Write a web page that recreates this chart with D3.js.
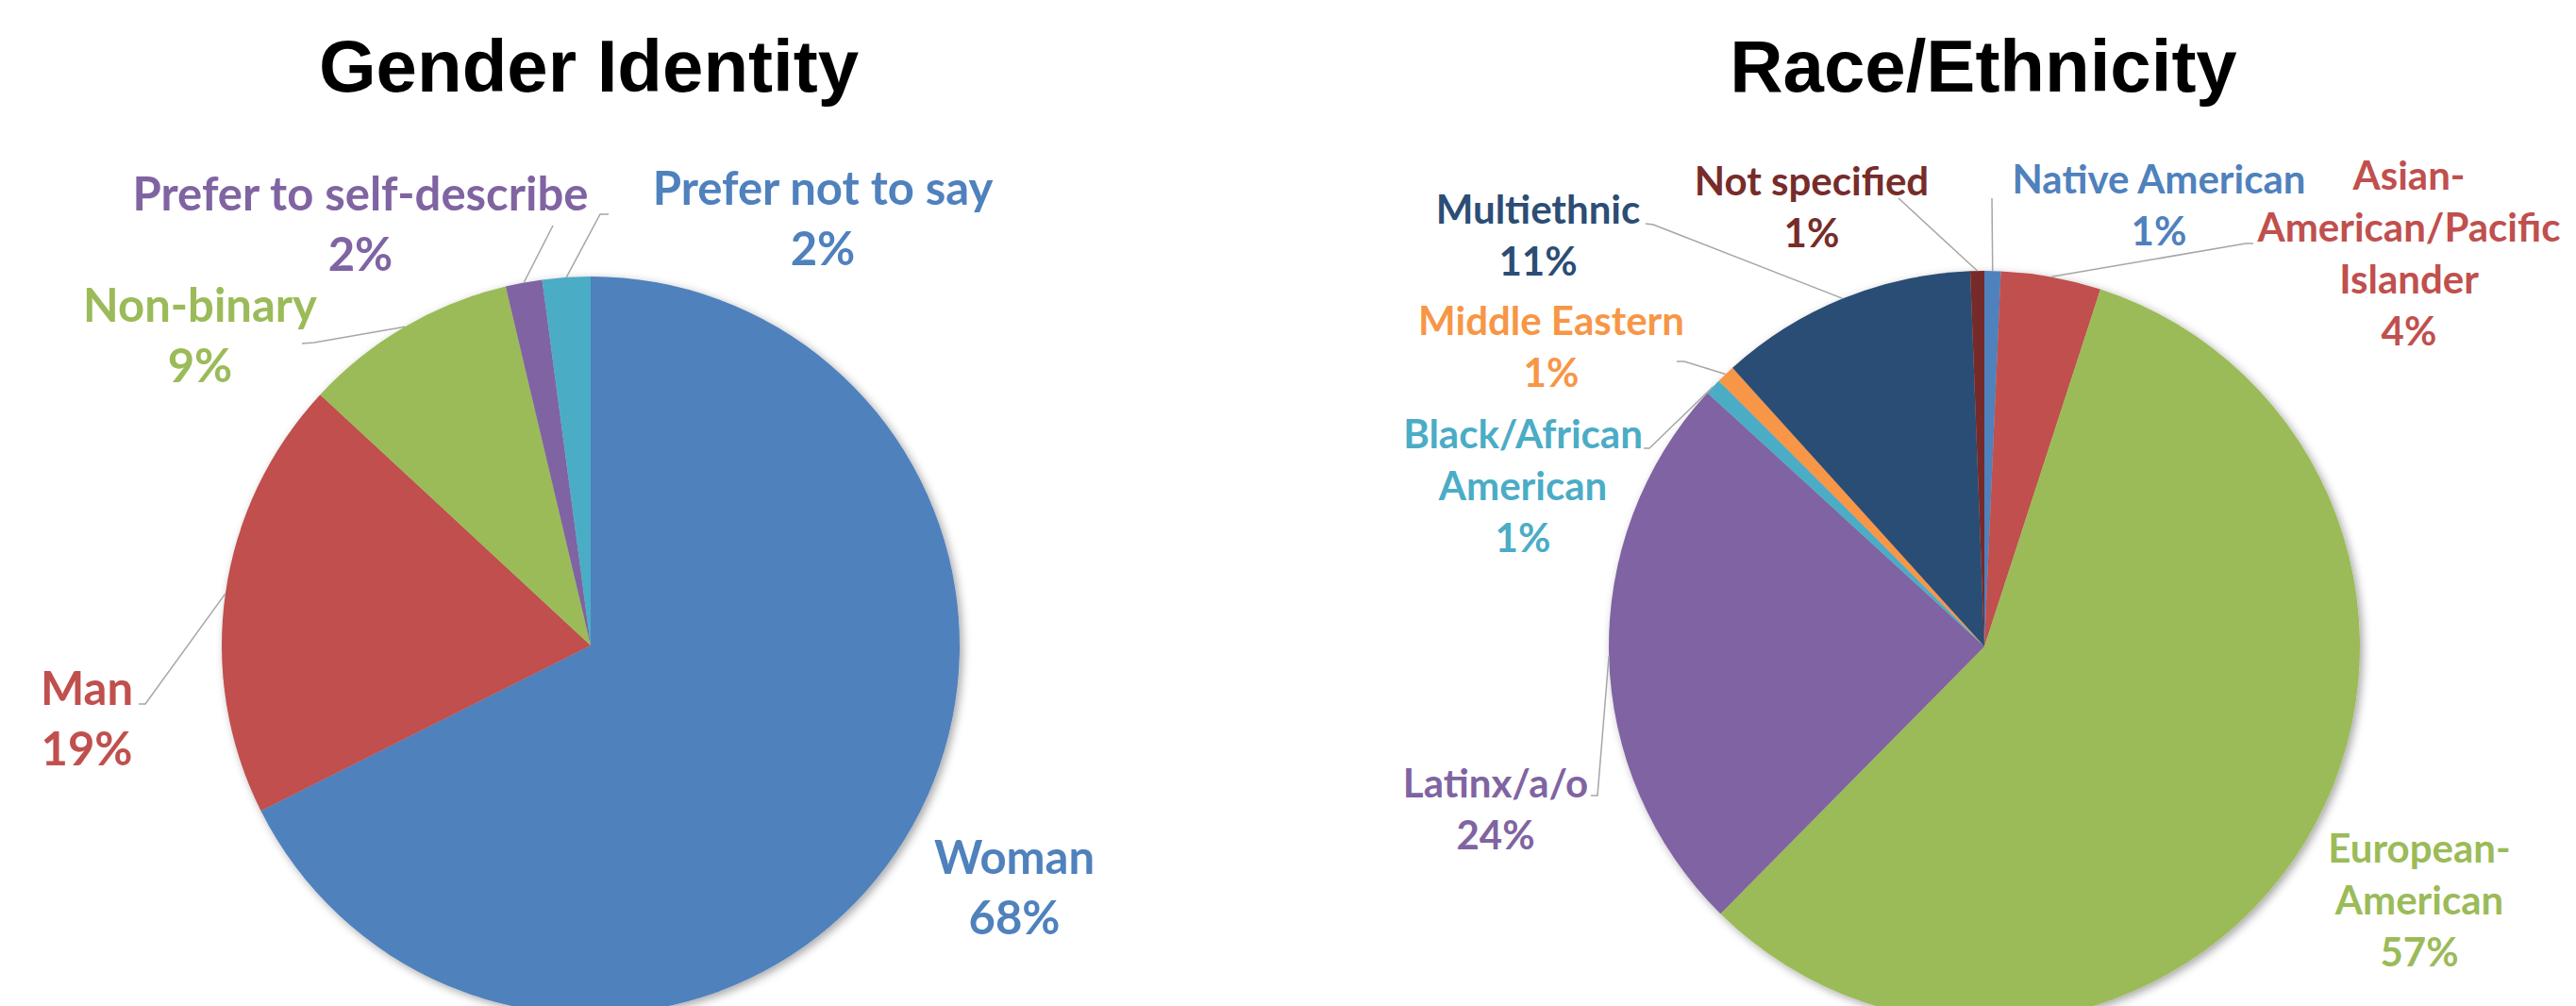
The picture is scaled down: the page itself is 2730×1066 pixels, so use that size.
<!DOCTYPE html>
<html><head><meta charset="utf-8">
<script src="https://cdn.jsdelivr.net/npm/d3@7"></script>
<style>body{margin:0;background:#fff;} svg{display:block}</style>
</head><body>
<svg id="chart" width="2730" height="1066"></svg>
<script>
// ---------- DATA ----------
const genderTitle = "Gender Identity";
const genderCategories = ["Woman", "Man", "Non-binary", "Prefer to self-describe", "Prefer not to say"];
const genderValues = [67.6, 19.3, 9.4, 1.6, 2.1];
const genderLabelLines = [["Woman"], ["Man"], ["Non-binary"], ["Prefer to self-describe"], ["Prefer not to say"]];

const raceTitle = "Race/Ethnicity";
const raceCategories = ["Native American", "Asian-American/Pacific Islander", "European-American", "Latinx/a/o",
  "Black/African American", "Middle Eastern", "Multiethnic", "Not specified"];
const raceValues = [0.7, 4.3, 57.4, 24.4, 0.7, 0.8, 11.1, 0.6];
const raceLabelLines = [["Native American"], ["Asian-", "American/Pacific", "Islander"], ["European-", "American"],
  ["Latinx/a/o"], ["Black/African", "American"], ["Middle Eastern"], ["Multiethnic"], ["Not specified"]];

// ---------- STYLE / LAYOUT ----------
const genderSliceColors = ["#4F81BD", "#C0504D", "#9BBB59", "#8064A2", "#4BACC6"];
const genderLabelColors = ["#4F81BD", "#C0504D", "#9BBB59", "#8064A2", "#4F81BD"];
const raceSliceColors = ["#4F81BD", "#C0504D", "#9BBB59", "#8064A2", "#4BACC6", "#F79646", "#2C4D75", "#772C2A"];
const raceLabelColors = ["#4F81BD", "#C0504D", "#9BBB59", "#8064A2", "#4BACC6", "#F79646", "#2C4D75", "#772C2A"];

const genderLayout = {
  cx: 626, cy: 684, r: 391, titleX: 624, titleY: 97, fontSize: 49, lineH: 64,
  labels: [
    {x: 1075, y: 926, leader: null},
    {x: 92, y: 747, leader: [[147, 746], [154, 746]]},
    {x: 212, y: 341, leader: [[320, 364], [333, 363]]},
    {x: 382, y: 223, leader: [[586, 239]]},
    {x: 872, y: 217, leader: [[645, 227], [636, 227]]}
  ]
};
const raceLayout = {
  cx: 2103, cy: 685, r: 398, titleX: 2102, titleY: 97, fontSize: 42, lineH: 55,
  labels: [
    {x: 2288, y: 205, leader: [[2111, 210]]},
    {x: 2553, y: 201, leader: [[2388, 258], [2380, 258]]},
    {x: 2564, y: 914, leader: null},
    {x: 1585, y: 845, leader: [[1686, 843], [1693, 843]]},
    {x: 1614, y: 475, leader: [[1742, 475], [1748, 475]]},
    {x: 1644, y: 355, leader: [[1777, 383], [1785, 383]]},
    {x: 1630, y: 237, leader: [[1744, 237], [1752, 238]]},
    {x: 1920, y: 207, leader: [[2012, 210]]}
  ]
};

const svg = d3.select("#chart");
svg.append("rect").attr("width", 2730).attr("height", 1066).attr("fill", "#fff");
const defs = svg.append("defs");
const f = defs.append("filter").attr("id", "pieShadow")
  .attr("x", "-10%").attr("y", "-10%").attr("width", "120%").attr("height", "120%");
f.append("feDropShadow").attr("dx", 3).attr("dy", 3).attr("stdDeviation", 5)
  .attr("flood-color", "#000").attr("flood-opacity", 0.35);

function drawPie(title, cats, vals, lines, sliceColors, labelColors, L) {
  const data = cats.map((c, i) => ({cat: c, value: vals[i], i}));
  const pie = d3.pie().sort(null).value(d => d.value);
  const arcs = pie(data);
  const arc = d3.arc().innerRadius(0).outerRadius(L.r);
  const edge = d3.arc().innerRadius(L.r).outerRadius(L.r);

  svg.append("text")
    .attr("x", L.titleX).attr("y", L.titleY)
    .attr("text-anchor", "middle")
    .attr("font-family", "'Liberation Sans', Arial, sans-serif")
    .attr("font-weight", "bold").attr("font-size", 78)
    .attr("fill", "#000").text(title);

  const g = svg.append("g").attr("transform", `translate(${L.cx},${L.cy})`);
  g.append("g").attr("filter", "url(#pieShadow)")
    .selectAll("path").data(arcs).join("path")
    .attr("d", arc).attr("fill", d => sliceColors[d.data.i]);

  // leader lines
  arcs.forEach(d => {
    const lay = L.labels[d.data.i];
    if (!lay.leader) return;
    const c = edge.centroid(d);
    const pts = lay.leader.slice().concat([[c[0] + L.cx, c[1] + L.cy]]);
    svg.append("path")
      .attr("d", d3.line()(pts))
      .attr("fill", "none").attr("stroke", "#A6A6A6").attr("stroke-width", 1.5);
  });

  // labels
  arcs.forEach(d => {
    const lay = L.labels[d.data.i];
    const txt = lines[d.data.i].concat([Math.round(d.data.value) + "%"]);
    const t = svg.append("text")
      .attr("text-anchor", "middle")
      .attr("font-family", "Lato, 'Open Sans', sans-serif")
      .attr("font-weight", "bold").attr("font-size", L.fontSize)
      .attr("fill", labelColors[d.data.i]);
    txt.forEach((s, k) => {
      t.append("tspan").attr("x", lay.x).attr("y", lay.y + k * L.lineH).text(s);
    });
  });
}

drawPie(genderTitle, genderCategories, genderValues, genderLabelLines, genderSliceColors, genderLabelColors, genderLayout);
drawPie(raceTitle, raceCategories, raceValues, raceLabelLines, raceSliceColors, raceLabelColors, raceLayout);
</script>
</body></html>
